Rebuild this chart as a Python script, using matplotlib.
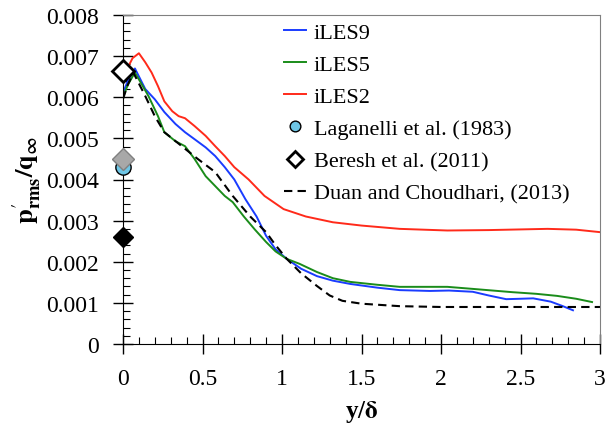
import numpy as np
import matplotlib
matplotlib.use("Agg")
import matplotlib.pyplot as plt
from matplotlib.ticker import MultipleLocator

plt.rcParams['font.family'] = 'serif'
plt.rcParams['font.serif'] = ['Liberation Serif', 'DejaVu Serif']
plt.rcParams['mathtext.fontset'] = 'stix'

# iLES9 (blue)
x_les9 = [0.0, 0.03, 0.075, 0.14, 0.2, 0.26, 0.33, 0.39, 0.45, 0.52, 0.58, 0.64, 0.70, 0.77,
          0.84, 0.9, 0.96, 1.03, 1.12, 1.22, 1.32, 1.43, 1.6, 1.74, 1.93, 2.05, 2.2, 2.3,
          2.41, 2.5, 2.58, 2.69, 2.76, 2.83]
y_les9 = [0.0061, 0.0064, 0.0067, 0.0062, 0.00595, 0.00564, 0.00535, 0.00515, 0.00498, 0.00478,
          0.00457, 0.0043, 0.0040, 0.00352, 0.0031, 0.00263, 0.0023, 0.00207, 0.00183, 0.00165,
          0.00154, 0.00146, 0.00137, 0.00131, 0.00129, 0.0013, 0.00127, 0.00118, 0.00109,
          0.0011, 0.00111, 0.00103, 0.00093, 0.00082]

# iLES5 (green)
x_les5 = [0.0, 0.03, 0.075, 0.12, 0.16, 0.22, 0.26, 0.33, 0.39, 0.45, 0.52, 0.58, 0.64, 0.69,
          0.76, 0.83, 0.9, 0.96, 1.03, 1.11, 1.22, 1.32, 1.43, 1.6, 1.74, 2.04, 2.2, 2.45,
          2.6, 2.73, 2.85, 2.95]
y_les5 = [0.006, 0.0063, 0.0066, 0.0063, 0.00603, 0.00554, 0.00515, 0.00493, 0.00481, 0.0045,
          0.00408, 0.00384, 0.0036, 0.00345, 0.0031, 0.00278, 0.00248, 0.00225, 0.00207,
          0.00195, 0.00175, 0.0016, 0.00151, 0.00144, 0.00139, 0.00139, 0.00134, 0.00126,
          0.00122, 0.00117, 0.0011, 0.00102]

# iLES2 (red)
x_les2 = [0.0, 0.03, 0.06, 0.1, 0.14, 0.18, 0.22, 0.26, 0.31, 0.35, 0.39, 0.45, 0.52, 0.58,
          0.64, 0.70, 0.79, 0.89, 1.01, 1.15, 1.32, 1.5, 1.74, 2.04, 2.3, 2.67, 2.85, 3.0]
y_les2 = [0.0066, 0.00672, 0.00695, 0.00707, 0.00685, 0.0066, 0.00627, 0.0059, 0.00566,
          0.00554, 0.00549, 0.0053, 0.00506, 0.00481, 0.00457, 0.0043, 0.004, 0.0036,
          0.00328, 0.0031, 0.00296, 0.00288, 0.0028, 0.00276, 0.00277, 0.0028, 0.00278,
          0.00272]

# Duan and Choudhari (2013), dashed
x_duan = [0.0, 0.03, 0.065, 0.14, 0.2, 0.26, 0.37, 0.47, 0.58, 0.69, 0.8, 0.9, 0.96, 1.03,
          1.12, 1.22, 1.3, 1.38, 1.5, 1.74, 2.0, 2.5, 3.0]
y_duan = [0.00596, 0.0063, 0.0066, 0.00603, 0.00554, 0.00515, 0.00481, 0.0045, 0.00418,
          0.0036, 0.0031, 0.00272, 0.0024, 0.00207, 0.00172, 0.00141, 0.00118, 0.00105,
          0.00098, 0.00092, 0.0009, 0.0009, 0.0009]

# experimental points at the wall
lag_x, lag_y = [0.0], [0.0043]
beresh_x, beresh_y = [0.0], [0.00665]
gray_x, gray_y = [0.0], [0.0045]
black_x, black_y = [0.0], [0.0026]

fig = plt.figure(figsize=(6.05, 4.27), dpi=100)
ax = fig.add_axes([123 / 605, 1 - 345 / 427, 477 / 605, 329 / 427])

ax.plot(x_les9, y_les9, color='#1a3cff', lw=1.4, label='iLES9')
ax.plot(x_les5, y_les5, color='#1a8c1a', lw=1.4, label='iLES5')
ax.plot(x_les2, y_les2, color='#ff2a1a', lw=1.4, label='iLES2')
ax.plot(lag_x, lag_y, 'o', ms=11, mfc='#6ec6e6', mec='black', mew=1.0, ls='none',
        clip_on=False, zorder=5, label='Laganelli et al. (1983)')
ax.plot(gray_x, gray_y, 'D', ms=11, mfc='#a8a8a8', mec='#808080', mew=1.0, ls='none',
        clip_on=False, zorder=6)
ax.plot(black_x, black_y, 'D', ms=10, mfc='black', mec='black', ls='none',
        clip_on=False, zorder=6)
ax.plot(beresh_x, beresh_y, 'D', ms=11, mfc='white', mec='black', mew=2.0, ls='none',
        clip_on=False, zorder=6, label='Beresh et al. (2011)')
ax.plot(x_duan, y_duan, color='black', lw=1.5, ls=(0, (4, 2.5)),
        label='Duan and Choudhari, (2013)')

ax.set_xlim(0, 3)
ax.set_ylim(0, 0.008)
ax.xaxis.set_major_locator(MultipleLocator(0.5))
ax.xaxis.set_minor_locator(MultipleLocator(0.1))
ax.yaxis.set_major_locator(MultipleLocator(0.001))
ax.yaxis.set_minor_locator(MultipleLocator(0.0002))
ax.xaxis.set_major_formatter(plt.FuncFormatter(lambda v, p: '%g' % v))
ax.yaxis.set_major_formatter(plt.FuncFormatter(lambda v, p: '0' if v == 0 else '%.3f' % v))
ax.tick_params(which='major', direction='inout', length=15, width=1, labelsize=17)
ax.tick_params(which='minor', direction='in', length=5, width=0.8)
ax.tick_params(axis='y', pad=10)
ax.tick_params(axis='x', pad=10)

for s in ['top', 'right']:
    ax.spines[s].set_color('#808080')
for s in ['left', 'bottom']:
    ax.spines[s].set_color('black')

ax.set_ylabel(r"$\mathbf{p}^{\prime}_{\mathbf{rms}}\mathbf{/q}_{\mathbf{\infty}}$",
              fontsize=19, labelpad=2)
ax.set_xlabel(r"y/$\mathbf{\delta}$", fontsize=18, fontweight='bold', labelpad=6)

ax.legend(loc='upper left', bbox_to_anchor=(0.305, 1.025), frameon=False, fontsize=16,
          handlelength=1.0, handletextpad=0.35, labelspacing=0.52, borderaxespad=0.3,
          markerscale=0.7)

fig.savefig('out.png', dpi=100)
